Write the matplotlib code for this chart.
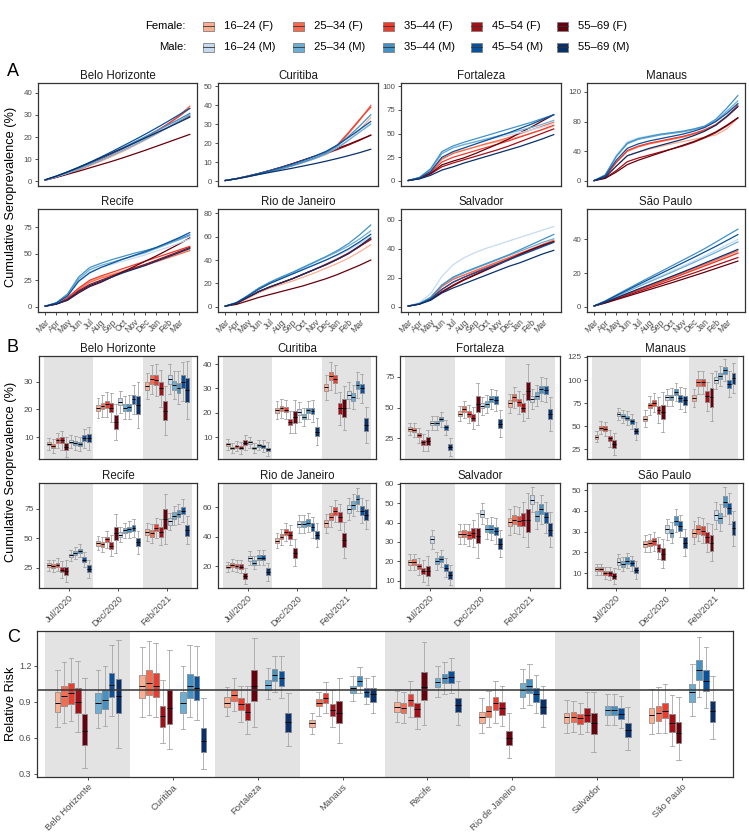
import matplotlib.pyplot as plt
from matplotlib.patches import Rectangle

plt.rcParams['font.family'] = ['Liberation Sans', 'DejaVu Sans']

W, H = 749, 832

cities = ['Belo Horizonte', 'Curitiba', 'Fortaleza', 'Manaus',
          'Recife', 'Rio de Janeiro', 'Salvador', 'São Paulo']
groups = ['16–24 (F)', '25–34 (F)', '35–44 (F)', '45–54 (F)', '55–69 (F)',
          '16–24 (M)', '25–34 (M)', '35–44 (M)', '45–54 (M)', '55–69 (M)']
colors = ['#fcae91', '#fb6a4a', '#ef3b2c', '#a50f15', '#67000d',
          '#c6dbef', '#6baed6', '#4292c6', '#08519c', '#08306b']
months = ['Mar', 'Apr', 'May', 'Jun', 'Jul', 'Aug', 'Sep', 'Oct', 'Nov', 'Dec', 'Jan', 'Feb', 'Mar']
rounds = ['Jul/2020', 'Dec/2020', 'Feb/2021']

# ---- panel A : monthly cumulative seroprevalence (%), Mar/2020 -> end of Mar/2021
a_months = list(range(14))

a_bh = [[0.5, 1.8, 3.3, 5.0, 7.0, 9.0, 11.2, 13.5, 16.0, 18.6, 21.3, 24.2, 27.2, 30.5],
        [0.5, 1.8, 3.4, 5.2, 7.2, 9.4, 11.7, 14.1, 16.7, 19.5, 22.5, 25.7, 29.5, 34.0],
        [0.5, 1.9, 3.5, 5.4, 7.5, 9.7, 12.0, 14.5, 17.1, 19.9, 22.8, 25.9, 29.2, 33.0],
        [0.5, 2.0, 3.7, 5.6, 7.7, 9.9, 12.2, 14.6, 17.0, 19.5, 22.0, 24.5, 27.0, 29.5],
        [0.5, 1.7, 3.1, 4.5, 6.0, 7.5, 9.0, 10.6, 12.3, 14.0, 15.8, 17.6, 19.4, 21.2],
        [0.5, 2.0, 3.6, 5.4, 7.4, 9.5, 11.8, 14.2, 16.7, 19.3, 22.0, 24.8, 27.7, 30.8],
        [0.5, 2.0, 3.6, 5.4, 7.4, 9.5, 11.7, 14.0, 16.4, 18.9, 21.5, 24.2, 27.0, 30.0],
        [0.6, 2.2, 4.0, 6.0, 8.1, 10.4, 12.8, 15.2, 17.7, 20.2, 22.8, 25.4, 28.0, 30.7],
        [0.6, 2.3, 4.2, 6.3, 8.5, 10.9, 13.4, 16.0, 18.6, 21.3, 24.1, 27.0, 30.0, 33.0],
        [0.6, 2.3, 4.2, 6.2, 8.4, 10.6, 12.8, 15.0, 17.3, 19.6, 21.9, 24.2, 26.6, 29.0]]
a_cur = [[0.3, 1.2, 2.4, 3.6, 5.0, 6.4, 8.0, 9.8, 11.8, 14.0, 17.0, 21.5, 27.0, 33.5],
         [0.3, 1.2, 2.4, 3.7, 5.1, 6.6, 8.3, 10.2, 12.3, 14.8, 18.5, 25.0, 32.0, 40.0],
         [0.3, 1.2, 2.4, 3.7, 5.1, 6.6, 8.3, 10.2, 12.4, 15.0, 19.0, 25.5, 32.5, 39.0],
         [0.3, 1.3, 2.6, 4.0, 5.6, 7.3, 9.1, 11.0, 12.8, 14.6, 16.6, 19.0, 21.5, 24.3],
         [0.3, 1.3, 2.6, 4.0, 5.6, 7.3, 9.2, 11.2, 13.2, 15.2, 17.2, 19.4, 21.8, 24.2],
         [0.3, 1.3, 2.6, 3.9, 5.4, 7.0, 8.8, 10.6, 12.6, 14.8, 17.8, 21.8, 26.0, 30.5],
         [0.3, 1.2, 2.4, 3.6, 5.0, 6.5, 8.1, 9.9, 11.9, 14.3, 17.5, 21.5, 25.8, 30.0],
         [0.3, 1.2, 2.4, 3.7, 5.1, 6.6, 8.3, 10.2, 12.3, 14.8, 18.5, 23.5, 29.0, 35.0],
         [0.3, 1.3, 2.6, 4.0, 5.5, 7.2, 9.0, 11.0, 13.2, 15.7, 19.0, 23.0, 27.2, 31.5],
         [0.3, 1.2, 2.3, 3.5, 4.6, 5.7, 6.8, 8.0, 9.2, 10.5, 11.9, 13.4, 15.0, 16.8]]
a_for = [[0.5, 3.0, 10.0, 24.0, 30.0, 33.0, 36.0, 39.0, 41.5, 44.0, 47.0, 50.5, 54.0, 58.0],
         [0.5, 3.0, 10.0, 23.0, 29.0, 32.5, 36.0, 39.5, 42.5, 46.0, 50.0, 54.0, 58.0, 62.0],
         [0.5, 3.0, 9.0, 20.0, 25.0, 28.5, 32.0, 35.5, 39.0, 42.5, 46.5, 50.5, 54.5, 59.0],
         [0.5, 2.5, 7.5, 15.0, 19.0, 22.5, 26.0, 29.5, 33.0, 37.0, 41.5, 46.0, 50.5, 55.0],
         [0.5, 2.8, 8.0, 17.0, 21.0, 24.5, 29.0, 34.0, 39.0, 44.5, 51.0, 57.0, 63.5, 70.0],
         [0.5, 3.5, 12.0, 29.0, 35.0, 38.5, 41.0, 43.5, 46.0, 48.5, 51.0, 54.0, 57.0, 60.0],
         [0.5, 3.5, 12.0, 29.0, 35.0, 38.5, 41.5, 44.5, 47.5, 50.5, 53.5, 56.5, 60.0, 64.0],
         [0.5, 3.8, 13.0, 31.0, 37.0, 41.0, 44.5, 48.0, 51.5, 55.0, 58.5, 62.0, 66.0, 70.0],
         [0.5, 3.3, 10.0, 25.0, 31.0, 35.0, 39.0, 43.0, 47.0, 51.0, 55.5, 60.0, 65.0, 70.0],
         [0.5, 2.2, 6.0, 11.5, 15.0, 19.0, 22.5, 26.0, 29.5, 33.0, 36.5, 40.5, 44.5, 49.0]]
a_man = [[0.5, 5.0, 20.0, 34.0, 39.0, 43.0, 46.5, 50.0, 53.0, 56.0, 59.0, 62.0, 70.0, 85.0],
         [0.5, 6.0, 25.0, 40.0, 46.0, 50.0, 53.0, 56.0, 59.0, 63.0, 68.0, 75.0, 86.0, 100.0],
         [0.5, 6.0, 25.0, 41.0, 47.0, 51.0, 54.0, 57.0, 60.0, 64.0, 69.0, 76.0, 87.0, 102.0],
         [0.5, 4.0, 14.0, 26.0, 31.0, 35.0, 39.0, 43.0, 47.0, 52.0, 58.0, 65.0, 74.0, 85.0],
         [0.5, 3.5, 12.0, 22.0, 28.0, 33.0, 38.0, 43.0, 48.0, 53.0, 59.0, 66.0, 75.0, 85.0],
         [0.5, 8.0, 35.0, 53.0, 58.0, 61.0, 63.0, 65.0, 67.0, 70.0, 73.0, 80.0, 92.0, 105.0],
         [0.5, 8.0, 33.0, 50.0, 56.0, 59.0, 62.0, 64.0, 66.0, 69.0, 73.0, 81.0, 94.0, 108.0],
         [0.5, 8.0, 33.0, 51.0, 57.0, 60.0, 63.0, 65.0, 67.0, 70.0, 74.0, 83.0, 98.0, 115.0],
         [0.5, 7.0, 28.0, 44.0, 50.0, 54.0, 57.0, 60.0, 63.0, 67.0, 72.0, 80.0, 91.0, 104.0],
         [0.5, 5.0, 20.0, 34.0, 39.0, 44.0, 48.0, 52.0, 56.0, 61.0, 67.0, 75.0, 87.0, 100.0]]
a_rec = [[0.5, 3.0, 8.0, 17.0, 24.0, 28.0, 31.0, 34.0, 37.0, 40.0, 43.5, 47.0, 50.5, 54.0],
         [0.5, 3.0, 8.0, 16.0, 23.0, 27.0, 30.0, 33.0, 36.0, 39.0, 42.5, 46.0, 49.5, 53.0],
         [0.5, 3.0, 8.5, 17.5, 25.0, 29.0, 32.5, 36.0, 39.5, 43.0, 46.5, 50.0, 53.5, 57.0],
         [0.5, 2.5, 7.0, 15.0, 21.0, 25.0, 29.0, 33.0, 36.5, 40.0, 44.0, 48.0, 52.0, 56.0],
         [0.5, 2.5, 6.0, 13.0, 19.0, 23.0, 28.0, 33.0, 38.0, 43.0, 48.0, 53.5, 59.0, 65.0],
         [0.5, 3.5, 10.0, 24.0, 33.0, 37.0, 40.0, 43.0, 46.0, 49.0, 52.5, 56.0, 60.0, 64.0],
         [0.5, 3.5, 11.0, 26.0, 35.0, 39.0, 42.0, 45.0, 48.0, 51.0, 55.0, 59.0, 63.0, 67.0],
         [0.5, 3.8, 12.0, 28.0, 37.0, 41.0, 44.5, 47.5, 50.5, 53.0, 56.0, 60.0, 64.0, 68.0],
         [0.5, 3.5, 10.0, 24.0, 32.0, 37.0, 41.0, 45.0, 48.5, 52.0, 56.0, 60.5, 65.0, 70.0],
         [0.5, 2.5, 6.5, 14.0, 20.0, 24.0, 28.0, 32.0, 35.5, 39.0, 43.0, 47.0, 51.0, 55.0]]
a_rio = [[0.5, 2.5, 7.0, 12.0, 16.0, 19.0, 22.0, 25.5, 29.0, 33.0, 37.0, 41.5, 47.0, 53.0],
         [0.5, 3.0, 8.0, 13.0, 17.0, 20.5, 24.0, 28.0, 32.0, 36.0, 40.5, 45.5, 51.5, 58.0],
         [0.5, 3.0, 8.0, 13.0, 17.0, 20.5, 24.0, 28.0, 32.0, 36.5, 41.0, 46.0, 52.0, 58.0],
         [0.5, 3.0, 8.0, 13.0, 17.0, 20.5, 24.0, 28.0, 32.0, 36.0, 40.5, 45.5, 51.5, 57.5],
         [0.5, 2.0, 5.0, 8.0, 10.5, 13.0, 15.5, 18.0, 21.0, 24.0, 27.5, 31.5, 35.5, 40.0],
         [0.5, 3.5, 9.0, 15.0, 20.0, 24.0, 28.0, 32.0, 36.0, 40.0, 44.0, 48.5, 54.0, 60.0],
         [0.5, 3.5, 9.5, 16.0, 21.0, 25.0, 29.0, 33.5, 38.0, 42.5, 47.0, 52.0, 58.0, 65.0],
         [0.5, 3.5, 9.5, 16.0, 21.0, 25.5, 29.5, 34.0, 38.5, 43.0, 48.0, 54.0, 61.5, 70.0],
         [0.5, 3.5, 9.0, 15.0, 20.0, 24.0, 28.0, 32.0, 36.0, 40.0, 44.5, 49.5, 55.5, 62.0],
         [0.5, 3.0, 8.0, 13.0, 17.0, 20.5, 24.0, 28.0, 32.0, 36.0, 40.5, 45.5, 52.0, 59.0]]
a_sal = [[0.5, 2.0, 6.0, 14.0, 19.0, 22.0, 25.0, 28.0, 31.0, 34.0, 37.0, 40.0, 43.0, 46.0],
         [0.5, 2.0, 6.0, 14.0, 19.0, 22.0, 25.0, 28.0, 31.0, 34.0, 37.0, 40.0, 43.0, 46.0],
         [0.5, 2.0, 5.5, 12.0, 17.0, 20.5, 24.0, 27.0, 30.0, 33.0, 36.0, 39.0, 42.0, 45.0],
         [0.5, 2.0, 5.0, 10.5, 15.0, 19.0, 22.5, 26.0, 29.5, 33.0, 36.5, 39.5, 42.5, 45.0],
         [0.5, 2.0, 5.0, 10.0, 14.5, 18.5, 22.0, 25.5, 29.0, 32.5, 36.0, 39.5, 42.5, 45.0],
         [0.5, 3.0, 9.0, 21.0, 29.0, 34.0, 37.5, 40.5, 43.0, 45.5, 48.0, 50.5, 53.0, 55.5],
         [0.5, 2.2, 6.5, 15.0, 20.0, 23.5, 26.5, 29.5, 32.5, 35.5, 38.5, 41.5, 44.5, 47.0],
         [0.5, 2.2, 6.5, 15.0, 20.5, 24.0, 27.0, 30.0, 33.0, 36.0, 39.5, 43.0, 46.5, 50.0],
         [0.5, 2.0, 5.5, 12.0, 17.0, 20.5, 23.5, 26.5, 29.5, 32.5, 35.5, 38.5, 41.5, 44.5],
         [0.5, 1.8, 4.5, 9.5, 13.0, 16.0, 19.0, 22.0, 25.0, 28.0, 30.5, 33.5, 36.5, 39.0]]
a_sp = [[0.5, 2.6, 5.0, 7.5, 10.0, 12.3, 14.6, 17.0, 19.4, 21.8, 24.3, 26.9, 29.5, 32.0],
        [0.5, 2.7, 5.2, 7.8, 10.3, 12.7, 15.1, 17.6, 20.1, 22.6, 25.2, 27.8, 30.5, 33.2],
        [0.5, 2.5, 4.9, 7.3, 9.7, 12.0, 14.4, 16.8, 19.2, 21.7, 24.2, 26.7, 29.2, 31.8],
        [0.5, 2.4, 4.6, 6.8, 9.0, 11.2, 13.4, 15.6, 17.8, 20.0, 22.3, 24.6, 26.9, 29.2],
        [0.5, 2.2, 4.2, 6.2, 8.2, 10.2, 12.2, 14.2, 16.3, 18.4, 20.5, 22.7, 24.9, 27.1],
        [0.5, 3.2, 6.3, 9.4, 12.4, 15.3, 18.2, 21.1, 24.1, 27.1, 30.2, 33.4, 36.7, 40.0],
        [0.5, 3.0, 6.0, 9.0, 12.0, 14.8, 17.6, 20.4, 23.3, 26.2, 29.2, 32.2, 35.3, 38.5],
        [0.5, 3.5, 7.0, 10.5, 14.0, 17.4, 20.8, 24.2, 27.6, 31.0, 34.5, 38.3, 42.2, 46.0],
        [0.5, 3.3, 6.6, 9.9, 13.2, 16.4, 19.6, 22.8, 26.0, 29.2, 32.5, 35.8, 39.3, 42.8],
        [0.5, 2.7, 5.3, 7.9, 10.5, 13.0, 15.5, 18.0, 20.6, 23.2, 25.9, 28.6, 31.3, 34.0]]

a_ylim = [(-2.2, 44.5), (-2.6, 51.8), (-5.3, 103.5), (-6.8, 132),
          (-5, 92.3), (-4.5, 83.7), (-3.6, 67.6), (-3.1, 58)]
a_yticks = [[0, 10, 20, 30, 40], [0, 10, 20, 30, 40, 50], [0, 25, 50, 75, 100], [0, 40, 80, 120],
            [0, 25, 50, 75], [0, 20, 40, 60, 80], [0, 20, 40, 60], [0, 20, 40]]

# ---- panel B : survey rounds, median / box half-height / whisker half-length
bh_med = [[7.6, 6.8, 8.8, 8.8, 6.6, 8.4, 8.0, 7.5, 9.6, 9.6],
          [20.6, 21.2, 21.8, 20.7, 15.5, 22.8, 20.7, 20.8, 23.6, 21.6],
          [28.4, 30.9, 30.6, 27.6, 19.5, 30.9, 28.8, 27.8, 30.0, 27.0]]
bh_box = [[0.6, 0.7, 0.9, 1.1, 1.2, 0.7, 0.7, 0.7, 1.1, 1.4],
          [1.0, 1.1, 1.3, 1.7, 2.4, 1.2, 1.1, 1.3, 1.7, 3.2],
          [1.5, 1.7, 1.8, 2.4, 3.4, 1.7, 1.6, 1.8, 2.3, 4.3]]
bh_wsk = [[2.2, 2.4, 2.8, 3.3, 3.6, 2.5, 2.5, 2.6, 3.4, 4.2],
          [3.6, 4.0, 4.4, 5.2, 6.4, 4.0, 4.0, 4.4, 5.4, 8.2],
          [4.8, 5.2, 5.8, 6.8, 8.8, 5.4, 5.2, 6.0, 7.0, 10.5]]

cur_med = [[7.1, 5.7, 6.4, 5.7, 7.8, 7.9, 5.5, 6.8, 6.4, 5.1],
           [21.1, 21.8, 21.3, 16.3, 18.4, 20.4, 18.4, 21.1, 20.7, 12.3],
           [30.4, 35.1, 33.8, 21.8, 22.0, 27.3, 26.6, 31.5, 30.0, 15.1]]
cur_box = [[0.6, 0.5, 0.6, 0.6, 0.9, 0.7, 0.5, 0.6, 0.6, 0.7],
           [1.0, 1.1, 1.1, 1.3, 2.4, 1.1, 1.0, 1.1, 1.3, 1.9],
           [1.6, 1.8, 1.7, 2.2, 3.5, 1.7, 1.6, 1.7, 1.9, 2.6]]
cur_wsk = [[2.2, 2.0, 2.2, 2.4, 3.2, 2.4, 2.0, 2.2, 2.4, 2.8],
           [3.6, 3.8, 3.8, 4.6, 6.8, 4.0, 3.6, 3.8, 4.6, 5.6],
           [5.0, 5.6, 5.8, 6.8, 9.2, 5.4, 5.0, 5.4, 5.8, 7.4]]

for_med = [[32.3, 31.5, 27.4, 21.5, 22.8, 37.5, 37.5, 40.5, 33.7, 17.9],
           [45.1, 48.7, 44.6, 41.8, 52.8, 51.4, 52.8, 56.9, 56.0, 36.9],
           [53.3, 58.2, 54.1, 50.0, 63.6, 56.9, 59.6, 65.0, 64.2, 44.6]]
for_box = [[1.4, 1.5, 1.7, 2.2, 3.0, 1.5, 1.5, 1.7, 2.0, 2.6],
           [2.0, 2.2, 2.4, 3.2, 6.5, 2.2, 2.3, 2.5, 3.2, 3.6],
           [2.5, 2.8, 3.0, 3.8, 7.5, 2.6, 2.7, 2.9, 3.3, 4.2]]
for_wsk = [[5.0, 5.5, 6.0, 7.0, 8.5, 5.5, 5.5, 6.0, 6.5, 7.5],
           [6.5, 7.0, 7.5, 9.0, 17.0, 7.5, 7.5, 8.0, 8.5, 11.0],
           [8.0, 8.5, 9.0, 11.0, 22.0, 8.5, 8.5, 9.5, 10.0, 14.0]]

man_med = [[38.5, 48.6, 47.5, 36.8, 30.7, 62.9, 60.7, 59.3, 55.3, 45.0],
           [58.3, 72.5, 75.4, 67.9, 65.4, 81.4, 81.4, 86.8, 80.4, 77.9],
           [80.8, 97.4, 97.4, 82.2, 81.4, 100.0, 104.6, 110.7, 95.7, 102.1]]
man_box = [[1.8, 2.2, 2.3, 3.0, 4.0, 2.0, 2.1, 2.3, 2.6, 3.3],
           [2.6, 3.0, 3.2, 4.5, 7.5, 2.6, 2.8, 3.2, 3.8, 5.0],
           [3.2, 3.6, 3.8, 5.5, 10.5, 3.0, 3.4, 3.8, 4.4, 6.0]]
man_wsk = [[6.0, 7.0, 7.5, 9.5, 12.0, 6.5, 7.0, 7.5, 8.5, 9.5],
           [9.0, 10.0, 10.5, 14.0, 22.0, 9.0, 9.5, 10.0, 12.0, 13.0],
           [10.0, 12.0, 12.5, 16.0, 26.0, 10.0, 11.0, 12.0, 14.0, 16.0]]

rec_med = [[27.2, 26.4, 27.8, 23.6, 22.2, 35.6, 37.5, 39.4, 31.9, 24.4],
           [45.8, 45.0, 49.2, 43.9, 54.2, 53.3, 56.9, 57.8, 58.9, 46.7],
           [55.6, 54.2, 58.9, 55.6, 66.7, 64.4, 69.4, 70.8, 73.6, 56.9]]
rec_box = [[1.6, 1.7, 1.8, 2.4, 3.2, 1.6, 1.7, 1.8, 2.2, 2.8],
           [2.0, 2.1, 2.3, 3.2, 5.5, 2.0, 2.1, 2.3, 2.6, 3.4],
           [2.6, 2.7, 3.0, 4.0, 8.5, 2.6, 2.8, 3.0, 3.2, 4.5]]
rec_wsk = [[4.8, 5.0, 5.5, 7.0, 9.5, 5.0, 5.0, 5.5, 6.5, 7.5],
           [6.0, 6.5, 7.0, 9.0, 16.5, 6.0, 6.5, 7.0, 7.5, 9.5],
           [7.5, 8.0, 8.5, 11.0, 21.0, 7.5, 8.0, 8.5, 9.5, 12.0]]

rio_med = [[19.5, 20.7, 20.0, 19.5, 13.2, 25.2, 22.3, 25.7, 25.7, 16.1],
           [37.3, 40.0, 43.0, 41.1, 29.1, 48.6, 48.6, 49.5, 46.4, 41.1],
           [49.1, 53.6, 57.7, 53.6, 37.7, 58.6, 61.6, 65.5, 57.7, 55.0]]
rio_box = [[1.2, 1.3, 1.4, 1.6, 2.0, 1.7, 1.5, 1.7, 1.8, 2.2],
           [1.7, 1.8, 2.0, 2.5, 3.5, 2.2, 2.2, 2.3, 2.6, 3.0],
           [2.3, 2.5, 2.8, 3.4, 5.0, 2.7, 2.8, 2.9, 3.2, 3.8]]
rio_wsk = [[3.5, 3.8, 4.0, 4.6, 5.5, 4.8, 4.5, 5.0, 5.2, 6.0],
           [5.0, 5.5, 6.0, 7.0, 9.0, 6.0, 6.0, 6.5, 7.0, 8.0],
           [6.5, 7.0, 7.5, 9.0, 12.0, 7.5, 7.5, 8.0, 8.5, 10.0]]

sal_med = [[19.6, 19.6, 17.4, 15.0, 15.0, 31.4, 20.2, 21.4, 16.8, 12.9],
           [34.2, 34.2, 33.6, 34.5, 33.3, 44.7, 36.9, 36.9, 35.7, 29.2],
           [40.3, 41.6, 40.9, 41.6, 41.2, 51.8, 43.5, 47.0, 42.8, 36.3]]
sal_box = [[1.3, 1.4, 1.4, 1.8, 2.6, 1.7, 1.5, 1.6, 1.7, 2.0],
           [1.7, 1.8, 1.9, 2.5, 4.0, 1.9, 1.9, 2.0, 2.3, 2.8],
           [2.2, 2.3, 2.5, 3.2, 5.8, 2.3, 2.4, 2.5, 2.8, 3.4]]
sal_wsk = [[4.0, 4.2, 4.3, 5.5, 7.5, 5.0, 4.5, 4.5, 5.0, 5.0],
           [5.0, 5.3, 5.5, 7.0, 11.5, 5.5, 5.5, 6.0, 6.5, 7.0],
           [6.5, 6.8, 7.0, 9.0, 14.0, 6.5, 7.0, 7.5, 8.0, 9.0]]

sp_med = [[11.9, 11.9, 10.0, 10.0, 8.7, 15.6, 14.5, 16.1, 14.8, 11.6],
          [24.2, 24.5, 25.3, 22.1, 19.4, 31.2, 29.5, 35.3, 32.7, 24.7],
          [29.5, 31.2, 30.5, 27.3, 24.7, 37.9, 36.8, 44.4, 41.2, 31.6]]
sp_box = [[0.9, 0.9, 0.9, 1.1, 1.5, 1.5, 1.4, 1.6, 1.5, 1.6],
          [1.5, 1.6, 1.7, 2.0, 2.8, 2.0, 1.9, 2.1, 2.2, 2.8],
          [2.0, 2.1, 2.2, 2.7, 3.8, 2.4, 2.4, 2.6, 2.8, 3.4]]
sp_wsk = [[2.6, 2.6, 2.8, 3.2, 3.8, 3.6, 3.4, 3.8, 3.6, 4.2],
          [4.0, 4.2, 4.5, 5.2, 7.0, 5.0, 5.0, 5.5, 5.5, 6.5],
          [5.5, 5.8, 6.0, 7.0, 9.0, 6.5, 6.5, 7.0, 7.5, 8.5]]

b_ylim = [(2.1, 39.3), (1.1, 43.3), (8, 92), (14.6, 126),
          (8, 97), (5, 76.6), (6.2, 60.5), (2.9, 53.4)]
b_yticks = [[10, 20, 30], [10, 20, 30, 40], [25, 50, 75], [25, 50, 75, 100, 125],
            [25, 50, 75], [20, 40, 60], [10, 20, 30, 40, 50, 60], [10, 20, 30, 40, 50]]

# ---- panel C : relative risk (reference 16-24 M), order F16..F55, M25..M55
c_med = [[0.893, 0.949, 0.971, 0.901, 0.659, 0.887, 0.915, 1.038, 0.949],
         [1.027, 1.060, 1.027, 0.781, 0.846, 0.893, 1.027, 1.013, 0.575],
         [0.893, 0.957, 0.882, 0.818, 1.027, 1.041, 1.122, 1.097, 0.728],
         [0.720, 0.893, 0.932, 0.832, 0.809, 1.013, 1.077, 0.985, 0.966],
         [0.860, 0.851, 0.915, 0.837, 1.021, 1.063, 1.097, 1.105, 0.873],
         [0.776, 0.823, 0.887, 0.848, 0.594, 0.999, 1.033, 0.966, 0.860],
         [0.770, 0.776, 0.762, 0.790, 0.720, 0.832, 0.832, 0.798, 0.664],
         [0.790, 0.804, 0.826, 0.720, 0.642, 0.977, 1.161, 1.074, 0.823]]
c_q1 = [[0.818, 0.865, 0.882, 0.804, 0.539, 0.809, 0.837, 0.943, 0.809],
        [0.929, 0.957, 0.943, 0.692, 0.714, 0.804, 0.929, 0.915, 0.483],
        [0.854, 0.910, 0.832, 0.748, 0.907, 0.999, 1.069, 1.033, 0.650],
        [0.692, 0.865, 0.893, 0.781, 0.720, 0.971, 1.033, 0.943, 0.901],
        [0.818, 0.804, 0.865, 0.776, 0.915, 1.021, 1.055, 1.055, 0.818],
        [0.726, 0.776, 0.832, 0.790, 0.539, 0.943, 0.971, 0.901, 0.798],
        [0.726, 0.734, 0.714, 0.734, 0.631, 0.790, 0.790, 0.754, 0.603],
        [0.726, 0.742, 0.762, 0.650, 0.552, 0.896, 1.083, 0.991, 0.734]]
c_q3 = [[0.977, 1.033, 1.060, 1.013, 0.795, 0.971, 0.999, 1.139, 1.088],
        [1.125, 1.167, 1.139, 0.865, 0.999, 0.977, 1.130, 1.116, 0.684],
        [0.938, 0.999, 0.929, 0.887, 1.161, 1.083, 1.172, 1.153, 0.809],
        [0.748, 0.921, 0.971, 0.882, 0.910, 1.033, 1.111, 1.013, 1.013],
        [0.901, 0.887, 0.966, 0.893, 1.144, 1.102, 1.133, 1.158, 0.935],
        [0.818, 0.865, 0.938, 0.901, 0.659, 1.060, 1.088, 1.013, 0.921],
        [0.809, 0.818, 0.798, 0.846, 0.809, 0.865, 0.865, 0.846, 0.726],
        [0.851, 0.865, 0.893, 0.795, 0.728, 1.047, 1.245, 1.161, 0.910]]
c_lo = [[0.692, 0.726, 0.740, 0.645, 0.343, 0.678, 0.700, 0.781, 0.511],
        [0.776, 0.790, 0.770, 0.552, 0.502, 0.670, 0.776, 0.748, 0.335],
        [0.781, 0.823, 0.734, 0.631, 0.692, 0.921, 0.985, 0.929, 0.530],
        [0.631, 0.781, 0.809, 0.686, 0.558, 0.910, 0.971, 0.882, 0.804],
        [0.734, 0.726, 0.776, 0.670, 0.706, 0.938, 0.966, 0.971, 0.706],
        [0.642, 0.692, 0.726, 0.698, 0.427, 0.846, 0.873, 0.804, 0.692],
        [0.642, 0.650, 0.631, 0.650, 0.483, 0.706, 0.706, 0.678, 0.497],
        [0.631, 0.642, 0.642, 0.530, 0.413, 0.781, 0.938, 0.846, 0.586]]
c_hi = [[1.167, 1.228, 1.264, 1.242, 1.097, 1.167, 1.194, 1.373, 1.418],
        [1.356, 1.404, 1.390, 1.083, 1.328, 1.194, 1.370, 1.362, 0.929],
        [1.021, 1.102, 1.033, 1.027, 1.432, 1.180, 1.278, 1.284, 0.971],
        [0.809, 0.985, 1.063, 0.999, 1.097, 1.111, 1.189, 1.097, 1.111],
        [0.991, 0.985, 1.069, 1.005, 1.398, 1.200, 1.231, 1.264, 1.069],
        [0.929, 0.991, 1.069, 1.027, 0.804, 1.172, 1.214, 1.125, 1.033],
        [0.915, 0.910, 0.893, 0.980, 0.980, 0.966, 0.966, 0.949, 0.860],
        [1.005, 1.021, 1.049, 0.957, 0.938, 1.214, 1.440, 1.356, 1.111]]
c_groups = [0, 1, 2, 3, 4, 6, 7, 8, 9]

a_curves = [a_bh, a_cur, a_for, a_man, a_rec, a_rio, a_sal, a_sp]
b_rounds = [(bh_med, bh_box, bh_wsk), (cur_med, cur_box, cur_wsk), (for_med, for_box, for_wsk),
            (man_med, man_box, man_wsk), (rec_med, rec_box, rec_wsk), (rio_med, rio_box, rio_wsk),
            (sal_med, sal_box, sal_wsk), (sp_med, sp_box, sp_wsk)]

BAND = '#e3e3e3'
FRAME = '#333333'
TICKTXT = '#4d4d4d'

fig = plt.figure(figsize=(W / 100, H / 100), dpi=100)
fig.patch.set_facecolor('white')


def place(l, t, r, b):
    # pixel box -> figure fraction
    return fig.add_axes([l / W, 1 - b / H, (r - l) / W, (b - t) / H])


def style(ax, size=6):
    for s in ax.spines.values():
        s.set_color(FRAME)
        s.set_linewidth(0.9)
    ax.tick_params(colors=FRAME, labelcolor=TICKTXT, length=2.5, width=0.6, labelsize=size, pad=1.5)


def box_stats(med, q1, q3, lo, hi):
    return [dict(med=m, q1=a, q3=b, whislo=c, whishi=d) for m, a, b, c, d in zip(med, q1, q3, lo, hi)]


def draw_boxes(ax, stats, pos, cols, width, capw):
    bp = ax.bxp(stats, positions=pos, widths=width, capwidths=capw, patch_artist=True,
                showfliers=False, manage_ticks=False,
                boxprops=dict(edgecolor='#808080', linewidth=0.5),
                whiskerprops=dict(color='#a6a6a6', linewidth=0.6),
                capprops=dict(color='#a6a6a6', linewidth=0.6),
                medianprops=dict(color='black', linewidth=0.7))
    for patch, c in zip(bp['boxes'], cols):
        patch.set_facecolor(c)


cols_a = [(38, 197), (218, 378), (401, 561), (587, 745)]
rows_a = [(83, 186), (209, 312)]
cols_b = [(39, 197), (218, 376), (400, 560), (587, 743)]
rows_b = [(356, 459), (483, 588)]

# ---------------- A
for k, city in enumerate(cities):
    (l, r), (t, b) = cols_a[k % 4], rows_a[k // 4]
    ax = place(l, t, r, b)
    style(ax, size=5.7)
    for vals, col in zip(a_curves[k], colors):
        ax.plot(a_months, vals, color=col, lw=0.9)
    ax.set_xlim(-0.65, 13.65)
    ax.set_ylim(*a_ylim[k])
    ax.set_yticks(a_yticks[k])
    ax.set_title(city, fontsize=8.3, pad=3, color='#1a1a1a')
    if k // 4 == 1:
        ax.set_xticks(range(len(months)))
        ax.set_xticklabels(months, rotation=45, ha='right', rotation_mode='anchor', fontsize=6.2)
    else:
        ax.set_xticks([])

# ---------------- B
for k, city in enumerate(cities):
    (l, r), (t, b) = cols_b[k % 4], rows_b[k // 4]
    ax = place(l, t, r, b)
    style(ax)
    med, half_box, half_wsk = b_rounds[k]
    for i in range(3):
        if i % 2 == 0:
            ax.axvspan(i + 0.5, i + 1.5, color=BAND, lw=0, zorder=0)
        stats = [dict(med=m, q1=m - h, q3=m + h, whislo=m - w, whishi=m + w)
                 for m, h, w in zip(med[i], half_box[i], half_wsk[i])]
        pos = [i + 1 + (g - 4.5) * 0.09 for g in range(10)]
        draw_boxes(ax, stats, pos, colors, 0.078, 0.06)
    ax.set_xlim(0.4, 3.6)
    ax.set_ylim(*b_ylim[k])
    ax.set_yticks(b_yticks[k])
    ax.set_title(city, fontsize=8.3, pad=3, color='#1a1a1a')
    if k // 4 == 1:
        ax.set_xticks([1, 2, 3])
        ax.set_xticklabels(rounds, rotation=45, ha='right', rotation_mode='anchor', fontsize=6.7)
    else:
        ax.set_xticks([])

# ---------------- C
ax = place(37, 631, 733, 777)
style(ax, size=6.5)
for k in range(len(cities)):
    if k % 2 == 0:
        ax.axvspan(k + 0.5, k + 1.5, color=BAND, lw=0, zorder=0)
    stats = box_stats(c_med[k], c_q1[k], c_q3[k], c_lo[k], c_hi[k])
    pos = [k + 1 + (g - 4.5) * 0.08 for g in c_groups]
    draw_boxes(ax, stats, pos, [colors[g] for g in c_groups], 0.066, 0.055)
ax.axhline(1.0, color=FRAME, lw=1.1, zorder=3)
ax.set_xlim(0.4, 8.6)
ax.set_ylim(0.272, 1.49)
ax.set_yticks([0.3, 0.6, 0.9, 1.2])
ax.set_yticklabels(['0.3', '0.6', '0.9', '1.2'])
ax.set_xticks(range(1, len(cities) + 1))
ax.set_xticklabels(cities, rotation=45, ha='right', rotation_mode='anchor', fontsize=6.8)

# ---------------- axis titles and panel letters
fig.text(11 / W, 1 - 197 / H, 'Cumulative Seroprevalence (%)', rotation=90, ha='center', va='center', fontsize=9.2)
fig.text(11 / W, 1 - 472 / H, 'Cumulative Seroprevalence (%)', rotation=90, ha='center', va='center', fontsize=9.2)
fig.text(11 / W, 1 - 704 / H, 'Relative Risk', rotation=90, ha='center', va='center', fontsize=9.2)
for letter, y in [('A', 72), ('B', 347), ('C', 637)]:
    fig.text(7 / W, 1 - y / H, letter, ha='left', va='center', fontsize=13)

# ---------------- legend
lax = fig.add_axes([0, 1 - 60 / H, 1, 60 / H])
lax.set_xlim(0, W)
lax.set_ylim(60, 0)
lax.axis('off')
key_x = [203, 293, 383, 471, 557]
for row, (name, y) in enumerate([('Female:', 26), ('Male:', 47)]):
    lax.text(186, y, name, ha='right', va='center', fontsize=8.1)
    for j in range(5):
        g = row * 5 + j
        lax.add_patch(Rectangle((key_x[j], y - 4.5), 11, 9, facecolor=colors[g], edgecolor='#808080', lw=0.6))
        lax.plot([key_x[j], key_x[j] + 11], [y, y], color='#333333', lw=0.6)
        lax.text(key_x[j] + 21, y, groups[g], ha='left', va='center', fontsize=8.1)

fig.savefig('out.png', dpi=100)
